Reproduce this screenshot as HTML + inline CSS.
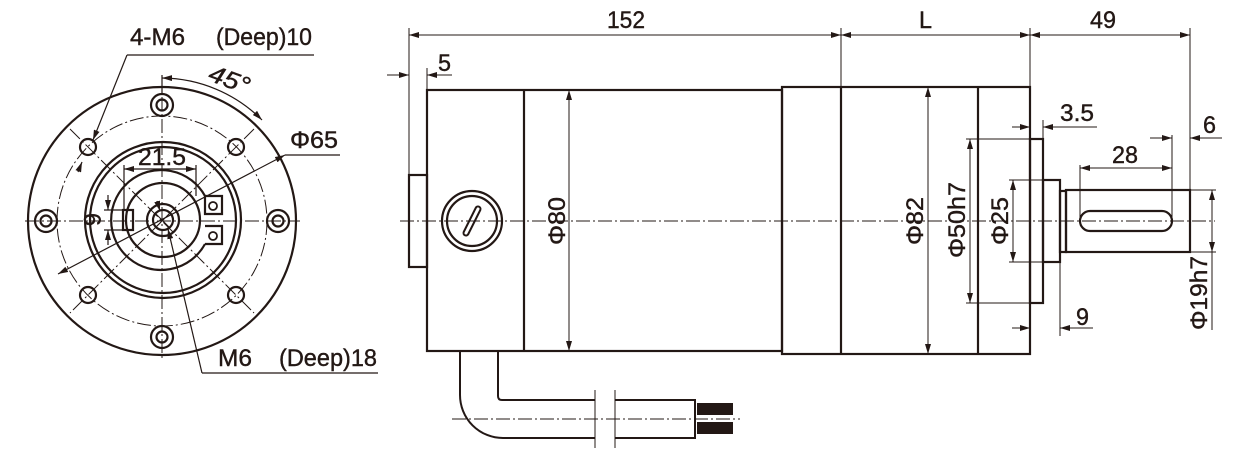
<!DOCTYPE html>
<html><head><meta charset="utf-8"><style>
html,body{margin:0;padding:0;background:#fff;width:1238px;height:456px;overflow:hidden}
svg{display:block}
text{font-family:"Liberation Sans",sans-serif;fill:#231815;font-size:24px;stroke:#231815;stroke-width:0.4}
</style></head><body>
<svg width="1238" height="456" viewBox="0 0 1238 456" xmlns="http://www.w3.org/2000/svg">
<defs>
<marker id="a" viewBox="0 0 10 6" refX="10" refY="3" markerWidth="10" markerHeight="6" orient="auto-start-reverse" markerUnits="userSpaceOnUse"><path d="M0,0 L10,3 L0,6 Z" fill="#231815"/></marker>
</defs>
<g stroke="#231815" fill="none">
<g stroke-width="2.2">
<circle cx="162" cy="221" r="134"/>
<circle cx="163" cy="220" r="78"/>
<circle cx="163" cy="220" r="73"/>
<path d="M205,196 A50,50 0 1 0 205,244"/>
<path d="M205,196 L222,196 L222,214 L205,214 Z M205,244 L222,244 L222,226 L205,226" />
<circle cx="163" cy="220" r="37"/>
<circle cx="163" cy="220" r="16"/>
<circle cx="163" cy="220" r="10"/>
<rect x="123" y="210" width="10" height="20"/>
<circle cx="162" cy="105" r="11"/><circle cx="162" cy="105" r="5.5"/>
<circle cx="162" cy="337" r="11"/><circle cx="162" cy="337" r="5.5"/>
<circle cx="46" cy="221" r="11"/><circle cx="46" cy="221" r="5.5"/>
<circle cx="278" cy="221" r="11"/><circle cx="278" cy="221" r="5.5"/>
<circle cx="88" cy="147" r="8"/><circle cx="236" cy="147" r="8"/>
<circle cx="88" cy="295" r="8"/><circle cx="236" cy="295" r="8"/>
</g>
<circle cx="213" cy="206" r="4" stroke-width="1.8"/><circle cx="213" cy="236" r="4" stroke-width="1.8"/>
<g stroke-width="1" stroke-dasharray="14,3,2,3">
<circle cx="162" cy="221" r="105"/>
<line x1="25" y1="221" x2="300" y2="221"/>
<line x1="162" y1="75" x2="162" y2="360"/>
<line x1="70" y1="129" x2="254" y2="313"/>
<line x1="254" y1="129" x2="70" y2="313"/>
</g>
<path d="M155,213 L170,228 M170,213 L155,228" stroke-width="1"/>
<g stroke-width="1.2">
<line x1="127" y1="55" x2="314" y2="55"/>
<line x1="127" y1="55" x2="93" y2="140" marker-end="url(#a)"/>
<line x1="82" y1="162" x2="78" y2="172" marker-start="url(#a)"/>
<line x1="202" y1="373" x2="378" y2="373"/>
<line x1="202" y1="373" x2="168" y2="229" marker-end="url(#a)"/>
<line x1="157" y1="201" x2="160" y2="211" marker-end="url(#a)"/>
<line x1="285" y1="155" x2="340" y2="155"/>
<line x1="285" y1="155" x2="58" y2="274" marker-start="url(#a)" marker-end="url(#a)"/>
<line x1="162" y1="75" x2="162" y2="95"/>
<path d="M162,78 A143,143 0 0 1 262,120" marker-start="url(#a)" marker-end="url(#a)"/>
<line x1="124" y1="165" x2="124" y2="210"/><line x1="196" y1="165" x2="196" y2="196"/>
<line x1="124" y1="169" x2="196" y2="169" marker-start="url(#a)" marker-end="url(#a)"/>
<line x1="104" y1="210" x2="123" y2="210"/><line x1="104" y1="230" x2="123" y2="230"/>
<line x1="108" y1="195" x2="108" y2="210" marker-end="url(#a)"/>
<line x1="108" y1="245" x2="108" y2="230" marker-end="url(#a)"/>
</g>

<g stroke-width="2.2">
<rect x="409" y="175" width="18" height="92"/>
<rect x="427" y="90" width="355" height="261"/>
<line x1="524" y1="90" x2="524" y2="351"/>
<rect x="782" y="87" width="248" height="267"/>
<line x1="841" y1="87" x2="841" y2="354"/>
<line x1="978" y1="87" x2="978" y2="354"/>
<rect x="1030" y="139" width="13" height="164"/>
<rect x="1043" y="180" width="17" height="82"/>
<rect x="1060" y="191" width="6" height="61"/>
<rect x="1066" y="190" width="124" height="62"/>
<rect x="1080" y="211" width="92" height="20" rx="10"/>
<circle cx="472" cy="221" r="30"/>
<circle cx="472" cy="221" r="25"/>
<path d="M466,233 L478,209" stroke-width="7" stroke-linecap="round"/>
</g>
<path d="M466,233 L478,209" stroke="#fff" stroke-width="3" stroke-linecap="round"/>
<g stroke-width="2">
<path d="M460,351 L460,395 A43,43 0 0 0 503,438 L595,438"/>
<path d="M498,351 L498,396 Q498,400 502,400 L595,400"/>
<path d="M615,400 L695,400 L695,438 L615,438"/>
</g>
<line x1="595" y1="390" x2="595" y2="448" stroke-width="1"/>
<line x1="615" y1="390" x2="615" y2="448" stroke-width="1"/>
<rect x="697" y="403" width="36" height="12" fill="#231815" stroke="none"/>
<rect x="697" y="422" width="36" height="12" fill="#231815" stroke="none"/>
<line x1="452" y1="419" x2="740" y2="419" stroke-width="1" stroke-dasharray="14,3,2,3"/>
<line x1="400" y1="221" x2="1215" y2="221" stroke-width="1" stroke-dasharray="14,3,2,3"/>

<g stroke-width="1">
<line x1="409" y1="28" x2="409" y2="175"/>
<line x1="841" y1="28" x2="841" y2="87"/>
<line x1="1030" y1="28" x2="1030" y2="87"/>
<line x1="1190" y1="28" x2="1190" y2="190"/>
<line x1="409" y1="35" x2="841" y2="35" marker-start="url(#a)" marker-end="url(#a)"/>
<line x1="841" y1="35" x2="1030" y2="35" marker-start="url(#a)" marker-end="url(#a)"/>
<line x1="1030" y1="35" x2="1190" y2="35" marker-start="url(#a)" marker-end="url(#a)"/>
<line x1="427" y1="68" x2="427" y2="90"/>
<line x1="387" y1="75" x2="409" y2="75" marker-end="url(#a)"/>
<line x1="452" y1="75" x2="427" y2="75" marker-end="url(#a)"/>
<line x1="569" y1="90" x2="569" y2="351" marker-start="url(#a)" marker-end="url(#a)"/>
<line x1="928" y1="87" x2="928" y2="354" marker-start="url(#a)" marker-end="url(#a)"/>
<line x1="966" y1="139" x2="1030" y2="139"/><line x1="966" y1="303" x2="1030" y2="303"/>
<line x1="970" y1="139" x2="970" y2="303" marker-start="url(#a)" marker-end="url(#a)"/>
<line x1="1009" y1="180" x2="1043" y2="180"/><line x1="1009" y1="262" x2="1043" y2="262"/>
<line x1="1013" y1="180" x2="1013" y2="262" marker-start="url(#a)" marker-end="url(#a)"/>
<line x1="1043" y1="120" x2="1043" y2="139"/>
<line x1="1012" y1="127" x2="1030" y2="127" marker-end="url(#a)"/>
<line x1="1097" y1="127" x2="1043" y2="127" marker-end="url(#a)"/>
<line x1="1060" y1="262" x2="1060" y2="336"/>
<line x1="1012" y1="328" x2="1030" y2="328" marker-end="url(#a)"/>
<line x1="1093" y1="328" x2="1060" y2="328" marker-end="url(#a)"/>
<line x1="1080" y1="165" x2="1080" y2="221"/>
<line x1="1172" y1="135" x2="1172" y2="221"/>
<line x1="1080" y1="168" x2="1172" y2="168" marker-start="url(#a)" marker-end="url(#a)"/>
<line x1="1150" y1="138" x2="1172" y2="138" marker-end="url(#a)"/>
<line x1="1222" y1="138" x2="1190" y2="138" marker-end="url(#a)"/>
<line x1="1190" y1="190" x2="1216" y2="190"/><line x1="1190" y1="252" x2="1216" y2="252"/>
<line x1="1212" y1="190" x2="1212" y2="252" marker-start="url(#a)" marker-end="url(#a)"/>
<line x1="1212" y1="252" x2="1212" y2="330"/>
</g>
</g>

<text x="130" y="45" textLength="55" lengthAdjust="spacingAndGlyphs">4-M6</text>
<text x="216" y="45" textLength="96" lengthAdjust="spacingAndGlyphs">(Deep)10</text>
<text x="0" y="0" transform="translate(207,80) rotate(20)" font-style="italic" textLength="42" lengthAdjust="spacingAndGlyphs">45°</text>
<text x="290" y="148" textLength="48" lengthAdjust="spacingAndGlyphs">Φ65</text>
<text x="138" y="165" textLength="48" lengthAdjust="spacingAndGlyphs">21.5</text>
<text x="0" y="0" transform="translate(84,213) rotate(90)" textLength="13" lengthAdjust="spacingAndGlyphs">6</text>
<text x="218" y="366" textLength="34" lengthAdjust="spacingAndGlyphs">M6</text>
<text x="279" y="366" textLength="98" lengthAdjust="spacingAndGlyphs">(Deep)18</text>
<text x="607" y="28" textLength="38" lengthAdjust="spacingAndGlyphs">152</text>
<text x="919" y="28" textLength="13" lengthAdjust="spacingAndGlyphs">L</text>
<text x="1090" y="28" textLength="26" lengthAdjust="spacingAndGlyphs">49</text>
<text x="438" y="71" textLength="13" lengthAdjust="spacingAndGlyphs">5</text>
<text x="0" y="0" transform="translate(565,245) rotate(-90)" textLength="48" lengthAdjust="spacingAndGlyphs">Φ80</text>
<text x="0" y="0" transform="translate(923,245) rotate(-90)" textLength="48" lengthAdjust="spacingAndGlyphs">Φ82</text>
<text x="0" y="0" transform="translate(965,258) rotate(-90)" textLength="76" lengthAdjust="spacingAndGlyphs">Φ50h7</text>
<text x="0" y="0" transform="translate(1008,245) rotate(-90)" textLength="48" lengthAdjust="spacingAndGlyphs">Φ25</text>
<text x="0" y="0" transform="translate(1207,330) rotate(-90)" textLength="74" lengthAdjust="spacingAndGlyphs">Φ19h7</text>
<text x="1060" y="121" textLength="34" lengthAdjust="spacingAndGlyphs">3.5</text>
<text x="1076" y="325" textLength="13" lengthAdjust="spacingAndGlyphs">9</text>
<text x="1112" y="163" textLength="26" lengthAdjust="spacingAndGlyphs">28</text>
<text x="1203" y="133" textLength="13" lengthAdjust="spacingAndGlyphs">6</text>
</svg>
</body></html>
